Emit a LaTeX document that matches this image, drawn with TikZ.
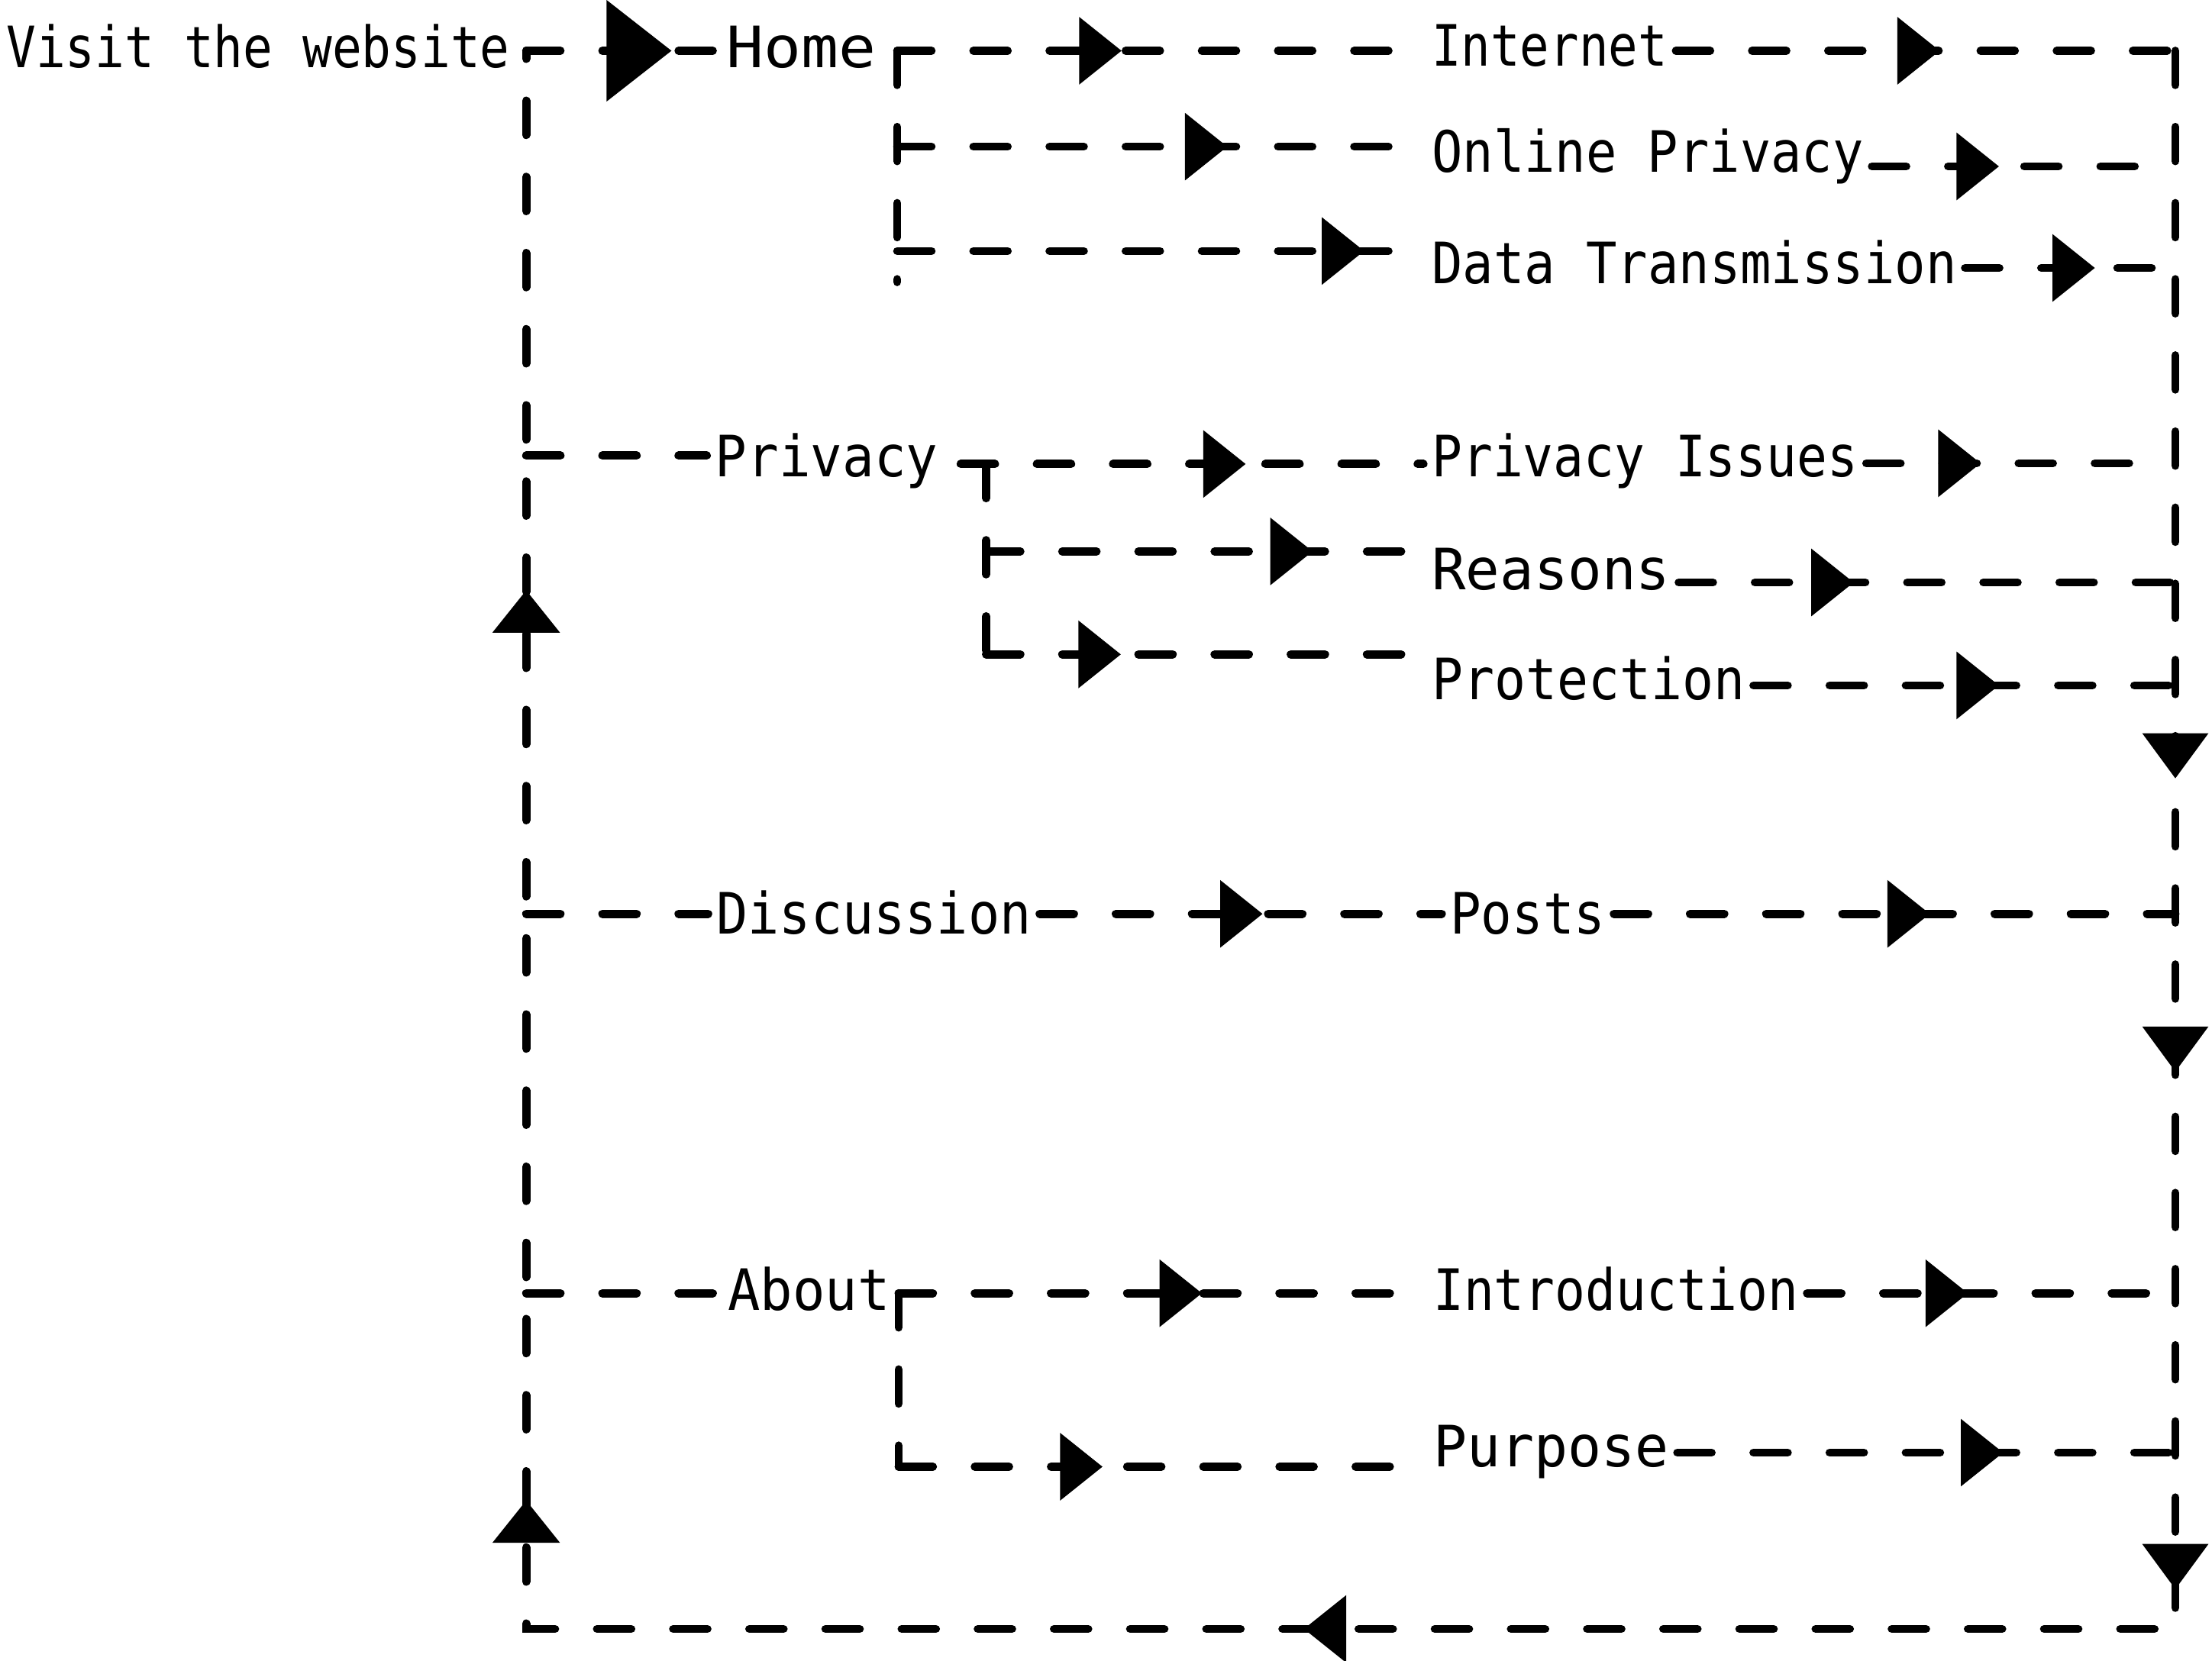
\documentclass[tikz,border=0pt]{standalone}
\usepackage{fontspec}
\usepackage{graphicx}
\usetikzlibrary{arrows.meta,decorations.markings}
\newfontfamily\labfont{DejaVu Sans Mono}
\newcommand\fitw[2]{\resizebox{#1}{\height}{#2}}
\tikzset{
  lab/.style={inner sep=0pt, outer xsep=0.12cm, outer ysep=0pt, anchor=base west,
    font=\labfont\fontsize{23}{23}\selectfont},
  conn/.style={line width=3.3pt, line cap=round, dash pattern=on 0.486cm off 0.594cm},
  tipA/.tip={Triangle[length=0.6cm,width=0.96cm,line width=0pt]},
  tipD/.tip={Triangle[length=0.64cm,width=0.94cm,line width=0pt]},
  tipB/.tip={Triangle[length=0.92cm,width=1.44cm,line width=0pt]},
  ah/.style={postaction={decorate,decoration={markings,mark=at position #1 with {\arrow{tipA}}}}},
  bigah/.style={postaction={decorate,decoration={markings,mark=at position #1 with {\arrow{tipB}}}}}
}
\begin{document}
\begin{tikzpicture}[x=0.02cm,y=-0.02cm]
\useasboundingbox (0,0) rectangle (1568,1177.7);

% labels
\node[lab] (visit) at (-1.5,48) {\fitw{7.14cm}{Visit the website}};
\node[lab] (home) at (509,48) {\fitw{2.12cm}{Home}};
\node[lab] (internet) at (1009,47) {\fitw{3.34cm}{Internet}};
\node[lab] (onlinep) at (1009,122) {\fitw{6.12cm}{Online Privacy}};
\node[lab] (datat) at (1009,201) {\fitw{7.44cm}{Data Transmission}};
\node[lab] (privacy) at (501,338) {\fitw{3.16cm}{Privacy}};
\node[lab] (pissues) at (1009,338) {\fitw{6.04cm}{Privacy Issues}};
\node[lab] (reasons) at (1009,418) {\fitw{3.38cm}{Reasons}};
\node[lab] (protection) at (1009,496) {\fitw{4.44cm}{Protection}};
\node[lab] (discussion) at (502,662) {\fitw{4.46cm}{Discussion}};
\node[lab] (posts) at (1022,662) {\fitw{2.20cm}{Posts}};
\node[lab] (about) at (510,929) {\fitw{2.30cm}{About}};
\node[lab] (intro) at (1010,929) {\fitw{5.18cm}{Introduction}};
\node[lab] (purpose) at (1010,1040) {\fitw{3.34cm}{Purpose}};

% corner and branch points
\coordinate (ltop) at (373,36);
\coordinate (lbot) at (373,1155);
\coordinate (rtop) at (1542,36);
\coordinate (rbot) at (1542,1155);
\coordinate (hb) at (636,36);
\coordinate (hb2) at (636,104);
\coordinate (hb3) at (636,178);
\coordinate (hbend) at (636,200);
\coordinate (opx) at (1525,118);
\coordinate (dtx) at (1534,190);
\coordinate (prs) at (373,323);
\coordinate (pbL) at (681,329);
\coordinate (pb) at (699,329);
\coordinate (pr2) at (699,391);
\coordinate (pbend) at (699,464);
\coordinate (pix) at (1525,328.5);
\coordinate (rex) at (1542,413);
\coordinate (ptx) at (1542,486);
\coordinate (dss) at (373,648);
\coordinate (dsx) at (1542,648);
\coordinate (abs) at (373,917);
\coordinate (ab) at (637,917);
\coordinate (abend) at (637,1040);
\coordinate (inx) at (1542,917);
\coordinate (pux) at (1542,1030);

% return loop
\draw[conn, postaction={decorate,decoration={markings,
    mark=at position 10.32cm with {\arrow{tipD}},
    mark=at position 14.48cm with {\arrow{tipD}},
    mark=at position 21.82cm with {\arrow{tipD}},
    mark=at position 34.74cm with {\arrow{tipA}},
    mark=at position 47.59cm with {\arrow{tipA}},
    mark=at position 60.50cm with {\arrow{tipA}}}}]
  (rtop) -- (rbot) -- (lbot) -- (ltop);

% visit -> home
\draw[conn, bigah=2.06cm] (ltop) -- (ltop -| home.west);

% home branch
\draw[conn] (hb) -- (hbend);
\draw[conn, ah=3.18cm] (hb) -- (hb -| internet.west);
\draw[conn, ah=4.68cm] (hb2) -- (hb2 -| onlinep.west);
\draw[conn, ah=6.62cm] (hb3) -- (hb3 -| datat.west);
\draw[conn, ah=3.74cm] (internet.east |- rtop) -- (rtop);
\draw[conn, ah=1.80cm] (onlinep.east |- opx) -- (opx);
\draw[conn, ah=1.84cm] (datat.east |- dtx) -- (dtx);

% privacy branch
\draw[conn] (prs) -- (prs -| privacy.west);
\draw[conn] (pb) -- (pbend);
\draw[conn, ah=4.04cm] (pbL) -- (pbL -| pissues.west);
\draw[conn, ah=4.63cm] (pr2) -- (pr2 -| reasons.west);
\draw[conn, ah=1.91cm] (pbend) -- (pbend -| protection.west);
\draw[conn, ah=1.62cm] (pissues.east |- pix) -- (pix);
\draw[conn, ah=2.48cm] (reasons.east |- rex) -- (rex);
\draw[conn, ah=3.48cm] (protection.east |- ptx) -- (ptx);

% discussion branch
\draw[conn] (dss) -- (dss -| discussion.west);
\draw[conn, ah=3.16cm] (discussion.east |- dss) -- (dss -| posts.west);
\draw[conn, ah=4.48cm] (posts.east |- dsx) -- (dsx);

% about branch
\draw[conn] (abs) -- (abs -| about.west);
\draw[conn] (ab) -- (abend);
\draw[conn, ah=4.30cm] (ab) -- (ab -| intro.west);
\draw[conn, ah=2.89cm] (abend) -- (abend -| purpose.west);
\draw[conn, ah=2.28cm] (intro.east |- inx) -- (inx);
\draw[conn, ah=4.62cm] (purpose.east |- pux) -- (pux);
\end{tikzpicture}
\end{document}
